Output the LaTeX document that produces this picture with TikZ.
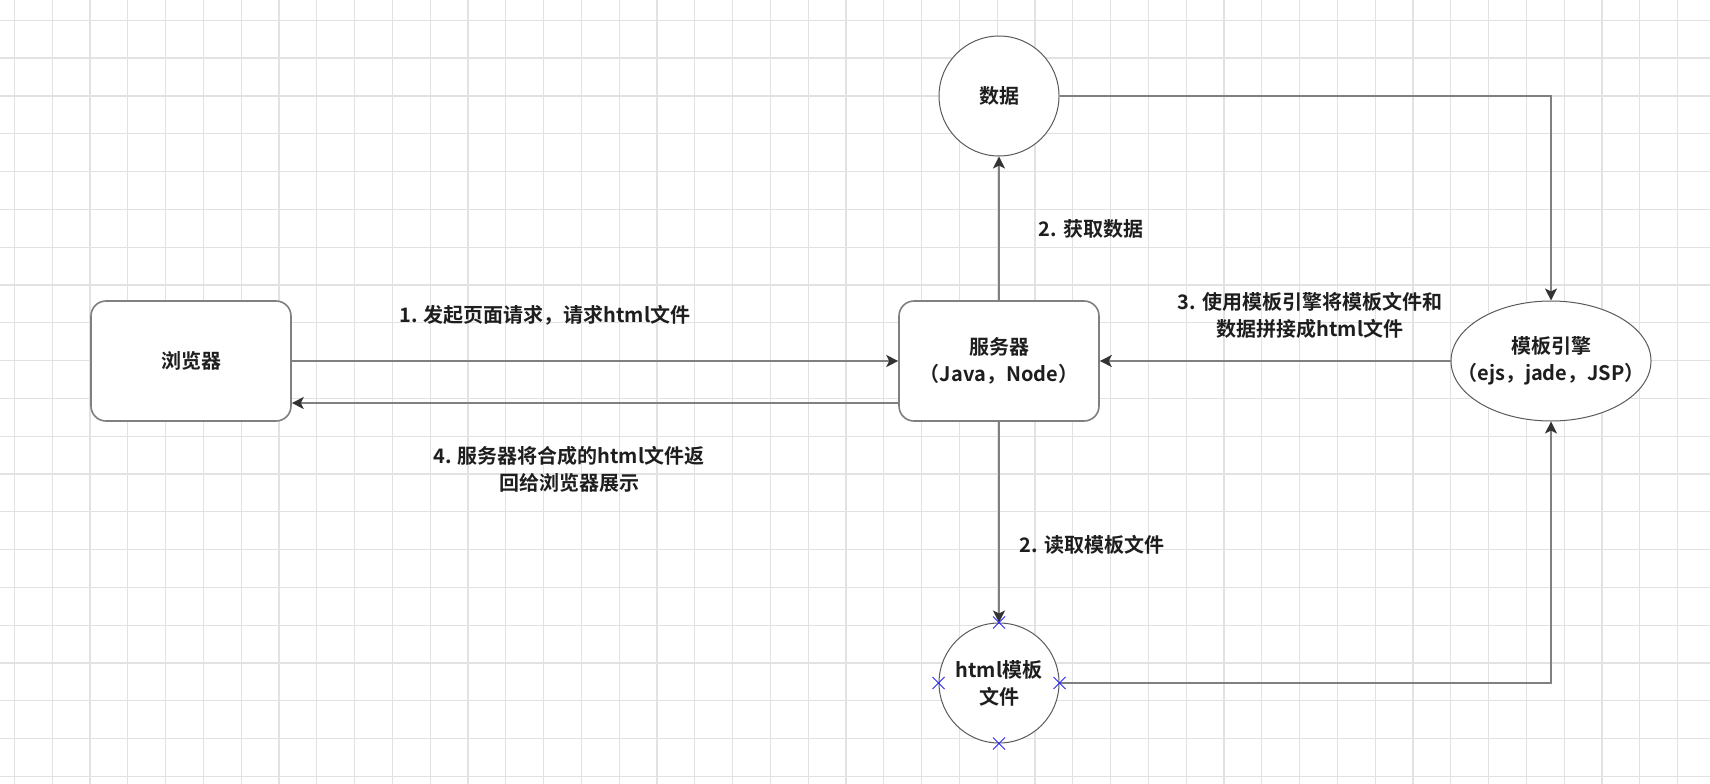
\documentclass[tikz,border=0pt]{standalone}
\usepackage{fontspec}
\setmainfont{Noto Sans CJK SC}[UprightFont={* Bold},BoldFont={* Bold}]
\usepackage{tikz}
\usetikzlibrary{shapes.geometric,arrows.meta,positioning,calc}
\definecolor{lineg}{RGB}{128,128,128}
\definecolor{edgeg}{RGB}{90,90,90}
\definecolor{tipg}{RGB}{51,51,51}
\definecolor{gridg}{RGB}{226,226,226}
\definecolor{txtg}{RGB}{30,30,30}
\definecolor{markblue}{RGB}{40,40,240}

\begin{document}
\begin{tikzpicture}[
    x=1pt, y=-1pt,
    gridline/.style={gridg, line width=1.2pt},
    rbox/.style={rectangle, draw=lineg, line width=1.6pt, fill=white,
        minimum width=200pt, minimum height=120pt, rounded corners=15pt,
        align=center, text=txtg},
    rcirc/.style={circle, draw=edgeg, line width=1pt, fill=white,
        minimum size=120pt, inner sep=0pt, align=center, text=txtg},
    rell/.style={ellipse, draw=edgeg, line width=1pt, fill=white,
        minimum width=200pt, minimum height=120pt, inner sep=0pt},
    lbl/.style={align=center, text=txtg},
    conn/.style={lineg, line width=1.6pt,
        -{Stealth[length=12pt, width=12pt, inset=3pt, color=tipg]}},
    xmark/.style={markblue, line width=0.8pt}
]
    \useasboundingbox[fill=white] (0,0) rectangle (1710,784);
    \fontsize{20}{27}\selectfont

    % background grid
    \foreach \k in {0,...,44}
        \draw[gridline] ({14.3+37.8*\k},0) -- ({14.3+37.8*\k},784);
    \foreach \k in {0,...,20}
        \draw[gridline] (0,{20.3+37.8*\k}) -- (1710,{20.3+37.8*\k});

    % nodes
    \node[rbox] (browser) at (191,361) {浏览器};
    \node[rbox] (server) at (999,361) {服务器\\（Java，Node）};
    \node[rcirc] (data) at (999,96) {数据};
    \node[rell] (engine) at (1551,361) {};
    \node[lbl] (enginetxt) at (engine.center) {模板引擎\\（ejs，jade，JSP）};
    \node[rcirc] (html) at (999,683) {html模板\\文件};

    % connectors
    \draw[conn] (browser.east) -- (server.west);
    \draw[conn] ([yshift=-42pt]server.west) -- ([yshift=-42pt]browser.east);
    \draw[conn] (server.north) -- (data.south);
    \draw[conn] (data.east) -| (engine.north);
    \draw[conn] (engine.west) -- (server.east);
    \draw[conn] (server.south) -- (html.north);
    \draw[conn] (html.east) -| (engine.south);

    % labels
    \node[lbl] (l1) at (545,315) {1. 发起页面请求，请求html文件};
    \node[lbl] (l4) at (569,469) {4. 服务器将合成的html文件返\\回给浏览器展示};
    \node[lbl] (l2a) at (1091,229) {2. 获取数据};
    \node[lbl] (l3) at (1310,315) {3. 使用模板引擎将模板文件和\\数据拼接成html文件};
    \node[lbl] (l2b) at (1092,545) {2. 读取模板文件};

    % selection marks on the template file
    \foreach \a in {north,south,east,west}
        \draw[xmark] ([shift={(-6,-6)}]html.\a) -- ([shift={(6,6)}]html.\a)
                     ([shift={(-6,6)}]html.\a) -- ([shift={(6,-6)}]html.\a);
\end{tikzpicture}
\end{document}
